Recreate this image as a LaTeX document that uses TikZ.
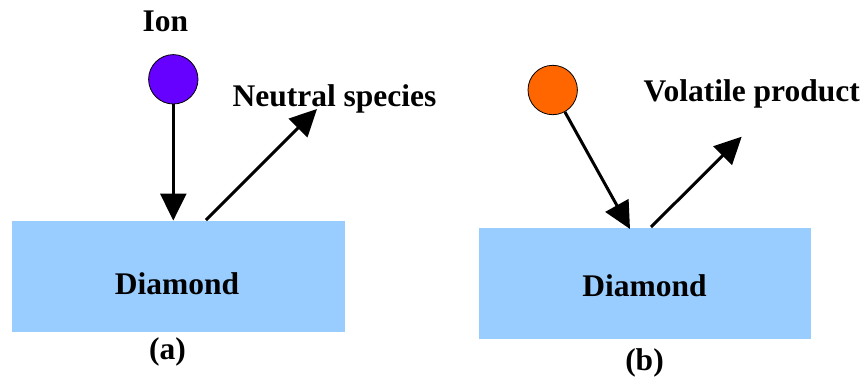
\documentclass[tikz,border=0pt]{standalone}
\usepackage{fontspec}
\setmainfont{Liberation Serif}
\usetikzlibrary{arrows.meta}
\definecolor{diamondblue}{HTML}{99CCFF}
\definecolor{ionviolet}{HTML}{6600FF}
\definecolor{radorange}{HTML}{FF6600}
\tikzset{
  lbl/.style={font=\fontsize{31.5}{36}\selectfont\bfseries, inner sep=0pt, anchor=base},
  slab/.style={fill=diamondblue, draw=none},
  particle/.style={circle, draw=black, line width=0.8pt, minimum size=49.4pt, inner sep=0pt},
  flow/.style={line width=3pt, -{Triangle[length=27pt,width=26pt]}, shorten >=0pt}
}
\begin{document}
\begin{tikzpicture}[x=1pt,y=-1pt]
  \useasboundingbox (0,0) rectangle (865,376);

  % ---- panel (a): ion impact ----
  \fill[slab] (12,221) rectangle (345,332);
  \node[lbl] (diaA) at (177,294) {Diamond};
  \node[lbl] (labA) at (167.5,359) {(a)};
  \node[lbl] (ion) at (165.5,31) {Ion};
  \node[particle, fill=ionviolet] (pa) at (173.3,79.3) {};
  \coordinate (hitA) at (173.3,220.5);
  \coordinate (leaveA) at (206,220);
  \coordinate (tipA) at (317,109);
  \draw[flow] (pa.south) -- (hitA);
  \draw[flow] (leaveA) -- (tipA);
  \node[lbl] (neutral) at (334.5,106) {Neutral species};

  % ---- panel (b): chemical etching ----
  \fill[slab] (479,228) rectangle (811,339);
  \node[lbl] (diaB) at (644.5,296) {Diamond};
  \node[lbl] (labB) at (644.5,370) {(b)};
  \node[particle, fill=radorange] (pb) at (552.7,90) {};
  \coordinate (hitB) at (630,229);
  \coordinate (leaveB) at (651,227);
  \coordinate (tipB) at (741.7,136.7);
  \draw[flow] (pb) -- (hitB);
  \draw[flow] (leaveB) -- (tipB);
  \node[lbl] (volatile) at (751.7,101) {Volatile product};
\end{tikzpicture}
\end{document}
